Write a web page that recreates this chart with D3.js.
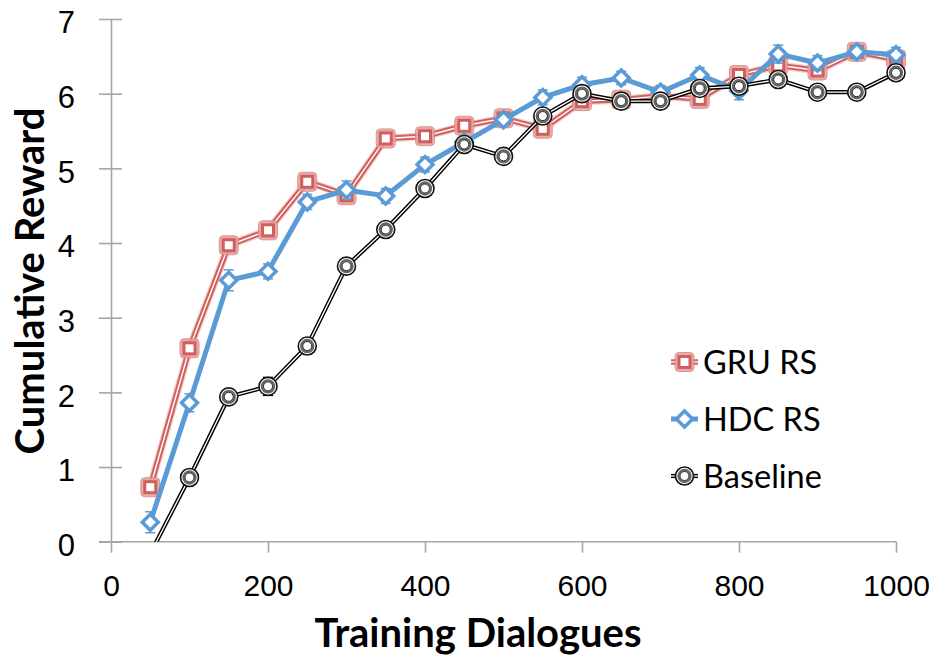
<!DOCTYPE html>
<html>
<head>
<meta charset="utf-8">
<script src="https://cdn.jsdelivr.net/npm/d3@7"></script>
<style>
  html, body { margin: 0; padding: 0; background: #fff; }
  svg { display: block; font-family: Lato, "Open Sans", sans-serif; }
</style>
</head>
<body>
<svg id="chart" width="930" height="659"></svg>
<script>
// Training dialogues (x) and cumulative reward per system
const dialogues = [50, 100, 150, 200, 250, 300, 350, 400, 450, 500,
                   550, 600, 650, 700, 750, 800, 850, 900, 950, 1000];
const gruRS    = [0.73, 2.59, 3.97, 4.17, 4.82, 4.64, 5.40, 5.43, 5.57, 5.67,
                  5.53, 5.90, 5.92, 5.97, 5.93, 6.25, 6.38, 6.31, 6.56, 6.46];
const hdcRS    = [0.26, 1.86, 3.50, 3.62, 4.55, 4.71, 4.63, 5.05, 5.35, 5.65,
                  5.95, 6.12, 6.21, 6.02, 6.25, 6.04, 6.53, 6.41, 6.56, 6.52];
const baseline = [-0.16, 0.86, 1.94, 2.08, 2.62, 3.69, 4.18, 4.73, 5.32, 5.16,
                  5.70, 6.00, 5.90, 5.90, 6.07, 6.10, 6.19, 6.02, 6.02, 6.28];
// Standard errors
const gruErr   = [0.08, 0.08, 0.08, 0.07, 0.08, 0.08, 0.07, 0.07, 0.07, 0.07,
                  0.08, 0.07, 0.07, 0.07, 0.08, 0.08, 0.08, 0.08, 0.07, 0.08];
const hdcErr   = [0.14, 0.12, 0.14, 0.10, 0.10, 0.12, 0.10, 0.10, 0.09, 0.09,
                  0.10, 0.10, 0.09, 0.09, 0.10, 0.12, 0.12, 0.10, 0.09, 0.10];
const baseErr  = [0.10, 0.10, 0.10, 0.12, 0.10, 0.10, 0.10, 0.10, 0.08, 0.09,
                  0.09, 0.08, 0.07, 0.08, 0.08, 0.09, 0.08, 0.08, 0.07, 0.08];
const xTicks = [0, 200, 400, 600, 800, 1000];
const yTicks = [0, 1, 2, 3, 4, 5, 6, 7];
const seriesNames = ["GRU RS", "HDC RS", "Baseline"];

const svg = d3.select("#chart");
const x = d3.scaleLinear().domain([0, 1000]).range([111, 896]);
const y = d3.scaleLinear().domain([0, 7]).range([541.7, 19]);

const axisColor = "#a6a6a6";
const red = "#d0605d", redHalo = "#e5a3a1";
const blue = "#5b9bd5";

// Axes
const yAxis = svg.append("g").attr("transform", `translate(${x(0)},0)`)
  .call(d3.axisLeft(y).tickValues(yTicks).tickFormat(d3.format("d"))
        .tickSizeInner(-11).tickSizeOuter(0).tickPadding(0));
yAxis.selectAll(".tick line").attr("x1", -12).attr("x2", 11);
yAxis.selectAll(".tick text").attr("x", -36).attr("dy", "0.45em")
  .style("font-size", "31px").attr("fill", "#000");

const xAxis = svg.append("g").attr("transform", `translate(0,${y(0)})`)
  .call(d3.axisBottom(x).tickValues(xTicks).tickFormat(d3.format("d"))
        .tickSizeInner(11).tickSizeOuter(0).tickPadding(22));
xAxis.selectAll(".tick text").style("font-size", "30px").attr("fill", "#000");

[yAxis, xAxis].forEach(g => {
  g.select(".domain").attr("stroke", axisColor).attr("stroke-width", 1.6);
  g.selectAll(".tick line").attr("stroke", axisColor).attr("stroke-width", 1.6);
});
xAxis.select(".domain").attr("d", `M${x(0) - 12},0H${x(1000)}`);

// Axis titles
svg.append("text").attr("x", 478).attr("y", 647).attr("text-anchor", "middle")
  .style("font-size", "40px").style("font-weight", "bold").text("Training Dialogues");
svg.append("text").attr("transform", "translate(44,281) rotate(-90)")
  .attr("text-anchor", "middle")
  .style("font-size", "40px").style("font-weight", "bold").text("Cumulative Reward");

// Clip so points below zero are cut at the axis
svg.append("clipPath").attr("id", "plotClip")
  .append("rect").attr("x", 0).attr("y", 0).attr("width", 930).attr("height", y(0));

const plot = svg.append("g").attr("clip-path", "url(#plotClip)");
const line = d3.line().x(d => x(d.x)).y(d => y(d.v));

function rows(vals, errs) {
  return dialogues.map((d, i) => ({ x: d, v: vals[i], e: errs[i] }));
}

function errorBars(g, data, color, w) {
  const eb = g.append("g").attr("stroke", color).attr("stroke-width", w);
  data.forEach(d => {
    eb.append("line").attr("x1", x(d.x)).attr("x2", x(d.x))
      .attr("y1", y(d.v - d.e)).attr("y2", y(d.v + d.e));
    [d.v - d.e, d.v + d.e].forEach(t => eb.append("line")
      .attr("x1", x(d.x) - 5).attr("x2", x(d.x) + 5)
      .attr("y1", y(t)).attr("y2", y(t)));
  });
}

// Marker painters (shared with the legend)
function squareMarker(g, cx, cy) {
  g.append("rect").attr("x", cx - 9.5).attr("y", cy - 9.5).attr("width", 19).attr("height", 19)
    .attr("rx", 4).attr("fill", redHalo).attr("stroke", "#dc8a88").attr("stroke-width", 1)
    .attr("opacity", 0.9);
  g.append("rect").attr("x", cx - 5.5).attr("y", cy - 5.5).attr("width", 11).attr("height", 11)
    .attr("fill", "#fff").attr("stroke", red).attr("stroke-width", 3);
}
function diamondMarker(g, cx, cy) {
  g.append("path").attr("d", `M${cx},${cy - 8}L${cx + 8},${cy}L${cx},${cy + 8}L${cx - 8},${cy}Z`)
    .attr("fill", "#fff").attr("stroke", blue).attr("stroke-width", 3.5);
}
function circleMarker(g, cx, cy) {
  g.append("circle").attr("cx", cx).attr("cy", cy).attr("r", 9)
    .attr("fill", "#fff").attr("stroke", "#111").attr("stroke-width", 1.6);
  g.append("circle").attr("cx", cx).attr("cy", cy).attr("r", 6)
    .attr("fill", "#fff").attr("stroke", "#666").attr("stroke-width", 2.4);
  g.append("circle").attr("cx", cx).attr("cy", cy).attr("r", 4.5)
    .attr("fill", "none").attr("stroke", "#111").attr("stroke-width", 0.9);
}

// GRU RS: double red line with square markers
const gruData = rows(gruRS, gruErr);
const gG = plot.append("g");
gG.append("path").datum(gruData).attr("d", line).attr("fill", "none")
  .attr("stroke", redHalo).attr("stroke-width", 8).attr("opacity", 0.5);
gG.append("path").datum(gruData).attr("d", line).attr("fill", "none")
  .attr("stroke", red).attr("stroke-width", 5.5);
gG.append("path").datum(gruData).attr("d", line).attr("fill", "none")
  .attr("stroke", "#fff").attr("stroke-width", 1.4);
errorBars(gG, gruData, red, 1.5);
gruData.forEach(d => squareMarker(gG, x(d.x), y(d.v)));

// HDC RS: solid blue line with diamond markers
const hdcData = rows(hdcRS, hdcErr);
const hG = plot.append("g");
hG.append("path").datum(hdcData).attr("d", line).attr("fill", "none")
  .attr("stroke", blue).attr("stroke-width", 5);
errorBars(hG, hdcData, blue, 1.5);
hdcData.forEach(d => diamondMarker(hG, x(d.x), y(d.v)));

// Baseline: double black line with ringed circle markers
const baseData = rows(baseline, baseErr);
const bG = plot.append("g");
bG.append("path").datum(baseData).attr("d", line).attr("fill", "none")
  .attr("stroke", "#000").attr("stroke-width", 4.2);
bG.append("path").datum(baseData).attr("d", line).attr("fill", "none")
  .attr("stroke", "#fff").attr("stroke-width", 1.3);
errorBars(bG, baseData.filter(d => d.v > 0), "#000", 1.5);
baseData.filter(d => d.v > 0).forEach(d => circleMarker(bG, x(d.x), y(d.v)));

// Legend
const legend = svg.append("g");
const legendY = [362, 419, 476];
seriesNames.forEach((name, i) => {
  const ly = legendY[i], lx0 = 671, lx1 = 698, cx = (lx0 + lx1) / 2;
  const g = legend.append("g");
  if (i === 0) {
    g.append("line").attr("x1", lx0).attr("x2", lx1).attr("y1", ly).attr("y2", ly)
      .attr("stroke", red).attr("stroke-width", 5.5);
    g.append("line").attr("x1", lx0).attr("x2", lx1).attr("y1", ly).attr("y2", ly)
      .attr("stroke", "#fff").attr("stroke-width", 1.4);
    squareMarker(g, cx, ly);
  } else if (i === 1) {
    g.append("line").attr("x1", lx0).attr("x2", lx1).attr("y1", ly).attr("y2", ly)
      .attr("stroke", blue).attr("stroke-width", 5);
    diamondMarker(g, cx, ly);
  } else {
    g.append("line").attr("x1", lx0).attr("x2", lx1).attr("y1", ly).attr("y2", ly)
      .attr("stroke", "#000").attr("stroke-width", 4.2);
    g.append("line").attr("x1", lx0).attr("x2", lx1).attr("y1", ly).attr("y2", ly)
      .attr("stroke", "#fff").attr("stroke-width", 1.3);
    circleMarker(g, cx, ly);
  }
  g.append("text").attr("x", 703).attr("y", ly).attr("dy", "0.36em")
    .style("font-size", "32.5px").text(name);
});
</script>
</body>
</html>
